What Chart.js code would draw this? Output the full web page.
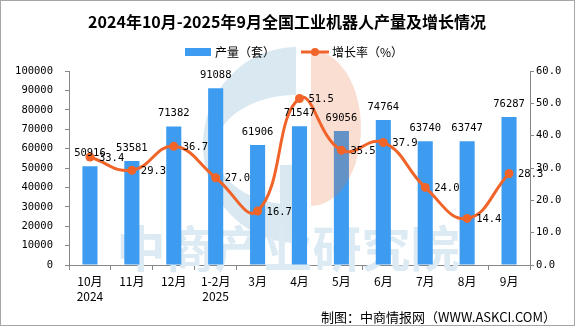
<!DOCTYPE html>
<html>
<head>
<meta charset="utf-8">
<script src="https://cdn.jsdelivr.net/npm/chart.js@4"></script>
<style>
  body { margin: 0; background: #fff; }
  #wrap { width: 575px; height: 326px; }
</style>
</head>
<body>
<div id="wrap"><canvas id="chart" width="575" height="326"></canvas></div>
<script>
const months = [["10月", "2024"], "11月", "12月", ["1-2月", "2025"], "3月", "4月", "5月", "6月", "7月", "8月", "9月"];
const output = [50916, 53581, 71382, 91088, 61906, 71547, 69056, 74764, 63740, 63747, 76287];
const growth = [33.4, 29.3, 36.7, 27.0, 16.7, 51.5, 35.5, 37.9, 24.0, 14.4, 28.3];

const titleText = "2024年10月-2025年9月全国工业机器人产量及增长情况";
const sourceText = "制图：中商情报网（WWW.ASKCI.COM）";

const blue = "#3D9CF0";
const orange = "#F0642A";
const cjk = "'Noto Sans CJK SC', sans-serif";
const num = "'DejaVu Sans Mono', monospace";

// title, legend, watermark, source, frame
const decor = {
  id: "decor",
  beforeDatasetsDraw(chart) {
    const ctx = chart.ctx;
    ctx.save();
    // watermark "G"
    ctx.fillStyle = "#D9E8F1";
    ctx.beginPath();
    ctx.ellipse(296, 145, 93, 98, 0, Math.PI * 1.5, Math.PI / 2, true);
    ctx.ellipse(296, 150, 81, 55, 0, Math.PI / 2, Math.PI * 1.5);
    ctx.closePath();
    ctx.fill();
    ctx.fillRect(280, 165, 16, 42);
    // watermark text
    ctx.fillStyle = "#DCEAF3";
    ctx.font = "bold 49px " + cjk;
    ctx.textAlign = "center";
    ctx.textBaseline = "middle";
    ctx.fillText("中商产业研究院", 288, 248);
    ctx.restore();
  },
  afterDatasetDraw(chart, args) {
    if (args.index !== 0) return;
    const ctx = chart.ctx;
    ctx.save();
    ctx.globalAlpha = 0.23;
    ctx.fillStyle = "rgb(233,112,59)";
    ctx.beginPath();
    ctx.ellipse(311, 128, 50, 78, 0, -Math.PI / 2, Math.PI / 2);
    ctx.closePath();
    ctx.fill();
    ctx.restore();
  },
  afterDraw(chart) {
    const ctx = chart.ctx;
    ctx.save();
    ctx.fillStyle = "#000";
    ctx.textBaseline = "middle";
    ctx.textAlign = "center";
    ctx.font = "bold 16px " + cjk;
    ctx.fillText(titleText, 287, 22);

    // legend
    ctx.fillStyle = blue;
    ctx.fillRect(185, 48, 26, 8);
    ctx.strokeStyle = orange;
    ctx.lineWidth = 3;
    ctx.beginPath();
    ctx.moveTo(301, 52);
    ctx.lineTo(329, 52);
    ctx.stroke();
    ctx.fillStyle = orange;
    ctx.beginPath();
    ctx.arc(315, 52, 4, 0, Math.PI * 2);
    ctx.fill();
    ctx.fillStyle = "#000";
    ctx.textAlign = "left";
    ctx.font = "12px " + cjk;
    ctx.fillText("产量（套）", 215, 52);
    ctx.fillText("增长率（%）", 332, 52);

    // source
    ctx.textAlign = "right";
    ctx.font = "13px " + cjk;
    ctx.fillText(sourceText, 556, 317);

    // frame
    ctx.strokeStyle = "#A6A6A6";
    ctx.lineWidth = 1;
    ctx.strokeRect(0.5, 0.5, 574, 325);
    ctx.restore();
  }
};

// value labels
const valueLabels = {
  id: "valueLabels",
  afterDatasetsDraw(chart) {
    const ctx = chart.ctx;
    ctx.save();
    ctx.fillStyle = "#000";
    ctx.font = "10.5px " + num;
    ctx.textBaseline = "middle";
    ctx.textAlign = "center";
    chart.getDatasetMeta(0).data.forEach((bar, i) => {
      ctx.fillText(String(output[i]), bar.x, bar.y - 13);
    });
    ctx.textAlign = "left";
    chart.getDatasetMeta(1).data.forEach((pt, i) => {
      ctx.fillText(growth[i].toFixed(1), pt.x + 9, pt.y + 1);
    });
    ctx.restore();
  }
};

new Chart(document.getElementById("chart"), {
  data: {
    labels: months,
    datasets: [
      {
        type: "bar",
        label: "产量（套）",
        data: output,
        backgroundColor: blue,
        yAxisID: "y",
        barPercentage: 0.36,
        categoryPercentage: 1,
        order: 2
      },
      {
        type: "line",
        label: "增长率（%）",
        data: growth,
        borderColor: orange,
        backgroundColor: orange,
        borderWidth: 3,
        pointRadius: 4.5,
        pointBackgroundColor: orange,
        pointBorderWidth: 0,
        tension: 0.45,
        yAxisID: "y1",
        order: 1
      }
    ]
  },
  options: {
    responsive: false,
    animation: false,
    layout: { padding: { top: 71, left: 0, right: 0, bottom: 0 } },
    plugins: {
      legend: { display: false },
      tooltip: { enabled: false }
    },
    scales: {
      x: {
        afterFit: (s) => { s.height = 61; },
        border: { color: "#878787" },
        grid: { drawOnChartArea: false, color: "#878787", tickLength: 5, offset: true },
        ticks: { color: "#000", padding: 4, font: { family: cjk, size: 12, lineHeight: 1.25 }, maxRotation: 0 }
      },
      y: {
        position: "left",
        min: 0,
        max: 100000,
        afterFit: (s) => { s.width = 69; },
        border: { color: "#878787" },
        grid: { drawOnChartArea: false, color: "#878787", tickLength: 4 },
        ticks: { stepSize: 10000, color: "#000", padding: 12, font: { family: num, size: 10.5 }, callback: (v) => String(v) }
      },
      y1: {
        position: "right",
        min: 0,
        max: 60,
        afterFit: (s) => { s.width = 45; },
        border: { color: "#878787" },
        grid: { drawOnChartArea: false, color: "#878787", tickLength: 4 },
        ticks: { stepSize: 10, color: "#000", padding: 2, font: { family: num, size: 10.5 }, callback: (v) => v.toFixed(1) }
      }
    }
  },
  plugins: [decor, valueLabels]
});
</script>
</body>
</html>
